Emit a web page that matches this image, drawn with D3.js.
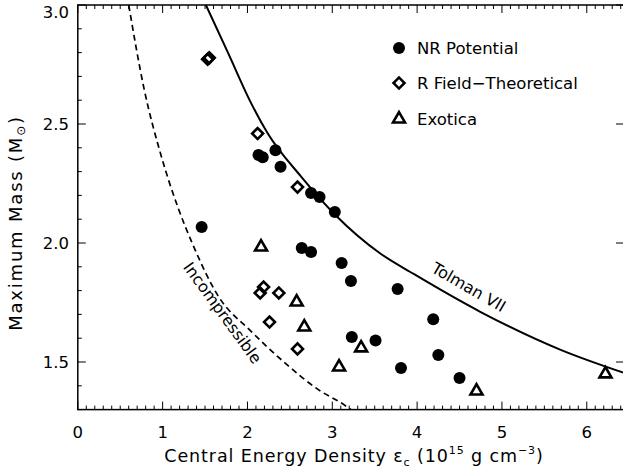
<!DOCTYPE html>
<html>
<head>
<meta charset="utf-8">
<script src="https://cdn.jsdelivr.net/npm/d3@7"></script>
<style>
  body { margin: 0; background: #fff; }
  text { font-family: "DejaVu Sans", sans-serif; fill: #000; }
</style>
</head>
<body>
<svg width="623" height="471"></svg>
<script>
// values: [central energy density, max mass]
const nrPotential = [
  [1.46, 2.067], [2.13, 2.37], [2.18, 2.36], [2.33, 2.39], [2.39, 2.32],
  [2.75, 2.21], [2.85, 2.193], [3.03, 2.13], [2.64, 1.979], [2.75, 1.962],
  [3.11, 1.916], [3.22, 1.84], [3.77, 1.807], [4.19, 1.68], [3.23, 1.605],
  [3.51, 1.59], [4.25, 1.529], [3.81, 1.475], [4.50, 1.433]
];
const rField = [
  [1.53, 2.772], [1.55, 2.778], [2.12, 2.46], [2.59, 2.235], [2.19, 1.815],
  [2.15, 1.79], [2.37, 1.79], [2.26, 1.668], [2.59, 1.555]
];
const exotica = [
  [2.16, 1.983], [2.58, 1.752], [2.67, 1.647], [3.34, 1.559], [3.08, 1.479],
  [4.70, 1.378], [6.22, 1.45]
];
const tolmanVII = [
  [1.51, 3.0], [1.77, 2.80], [2.04, 2.59], [2.24, 2.46], [2.63, 2.28],
  [3.03, 2.12], [3.57, 1.955], [3.96, 1.87], [4.75, 1.71], [5.70, 1.55], [6.45, 1.453]
];
const incompressible = [
  [0.60, 3.0], [0.78, 2.65], [0.98, 2.37], [1.18, 2.15], [1.36, 1.99],
  [1.65, 1.78], [2.04, 1.63], [2.43, 1.50], [2.83, 1.385], [3.14, 1.32], [3.22, 1.30]
];
const xTicks = [0, 1, 2, 3, 4, 5, 6];
const yTicks = [1.5, 2.0, 2.5, 3.0];
const legendNames = ["NR Potential", "R Field\u2212Theoretical", "Exotica"];

// right edge of the frame sits just past the picture
const pLeft = 77.8, pRight = 624, pTop = 5, pBottom = 409.6;

const svg = d3.select("svg");

const x = d3.scaleLinear().domain([0, (pRight - pLeft) / 84.83]).range([pLeft, pRight]);
const y = d3.scaleLinear().domain([1.3, 3.0]).range([pBottom, pTop]);

const xMinor = d3.range(0, 65).map(i => i / 10).filter(v => x(v) <= pRight);
const yMinor = d3.range(13, 31).map(i => i / 10);

// frame
svg.append("rect")
  .attr("x", pLeft).attr("y", pTop)
  .attr("width", pRight - pLeft).attr("height", pBottom - pTop)
  .attr("fill", "none").attr("stroke", "#000").attr("stroke-width", 1.5);

// ticks (all pointing inward)
const tickLayer = svg.append("g").attr("stroke", "#000").attr("stroke-width", 1);
xMinor.forEach(v => {
  const major = Math.abs(v - Math.round(v)) < 1e-6;
  const len = major ? 8 : 4;
  tickLayer.append("line").attr("x1", x(v)).attr("x2", x(v))
    .attr("y1", pBottom).attr("y2", pBottom - len);
  tickLayer.append("line").attr("x1", x(v)).attr("x2", x(v))
    .attr("y1", pTop).attr("y2", pTop + len);
});
yMinor.forEach(v => {
  const major = Math.abs(v * 2 - Math.round(v * 2)) < 1e-6;
  const len = major ? 8 : 4;
  tickLayer.append("line").attr("y1", y(v)).attr("y2", y(v))
    .attr("x1", pLeft).attr("x2", pLeft + len);
  if (major) tickLayer.append("line").attr("y1", y(v)).attr("y2", y(v))
    .attr("x1", pRight).attr("x2", pRight - len);
});

// tick labels
svg.selectAll(".xlab").data(xTicks).enter().append("text")
  .attr("x", d => x(d)).attr("y", 438)
  .attr("text-anchor", "middle").attr("font-size", 16.5)
  .text(d => d);
svg.selectAll(".ylab").data(yTicks).enter().append("text")
  .attr("x", 69).attr("y", d => Math.max(y(d) + 6, 18))
  .attr("text-anchor", "end").attr("font-size", 16.5)
  .text(d => d.toFixed(1));

// axis titles
const xt = svg.append("text")
  .attr("x", 354).attr("y", 462)
  .attr("text-anchor", "middle").attr("font-size", 17.5)
  .attr("letter-spacing", 0.9);
xt.append("tspan").text("Central Energy Density \u03b5");
xt.append("tspan").attr("font-size", 11).attr("dy", 4).text("c");
xt.append("tspan").attr("dy", -4).text(" (10");
xt.append("tspan").attr("font-size", 11).attr("dy", -8).text("15");
xt.append("tspan").attr("dy", 8).text(" g cm");
xt.append("tspan").attr("font-size", 11).attr("dy", -8).text("\u22123");
xt.append("tspan").attr("dy", 8).text(")");

const yt = svg.append("text")
  .attr("transform", "translate(22,223) rotate(-90)")
  .attr("text-anchor", "middle").attr("font-size", 18)
  .attr("letter-spacing", 1.8);
yt.append("tspan").text("Maximum Mass (M");
yt.append("tspan").attr("font-size", 12).attr("dy", 3).text("\u2299");
yt.append("tspan").attr("dy", -3).text(")");

// curves
const line = d3.line().x(d => x(d[0])).y(d => y(d[1])).curve(d3.curveMonotoneX);
const plot = svg.append("g");
plot.append("path").datum(tolmanVII).attr("d", line)
  .attr("fill", "none").attr("stroke", "#000").attr("stroke-width", 2);
plot.append("path").datum(incompressible).attr("d", line)
  .attr("fill", "none").attr("stroke", "#000").attr("stroke-width", 1.7)
  .attr("stroke-dasharray", "6,4");

svg.append("text")
  .attr("transform", "translate(466,292) rotate(30)")
  .attr("text-anchor", "middle").attr("font-size", 16)
  .text("Tolman VII");
svg.append("text")
  .attr("transform", "translate(218,316) rotate(54)")
  .attr("text-anchor", "middle").attr("font-size", 16)
  .text("Incompressible");

// markers
plot.selectAll(".nr").data(nrPotential).enter().append("circle")
  .attr("cx", d => x(d[0])).attr("cy", d => y(d[1])).attr("r", 6)
  .attr("fill", "#000");
const diamond = d3.symbol().type(d3.symbolSquare).size(60);
plot.selectAll(".rf").data(rField).enter().append("path")
  .attr("d", diamond)
  .attr("transform", d => `translate(${x(d[0])},${y(d[1])}) rotate(45)`)
  .attr("fill", "none").attr("stroke", "#000").attr("stroke-width", 2.6);
const tri = d3.symbol().type(d3.symbolTriangle).size(62);
plot.selectAll(".ex").data(exotica).enter().append("path")
  .attr("d", tri)
  .attr("transform", d => `translate(${x(d[0])},${y(d[1])})`)
  .attr("fill", "none").attr("stroke", "#000").attr("stroke-width", 2.6)
  .attr("stroke-linejoin", "miter");

// legend
const legend = svg.append("g");
const ly = [48, 83, 119];
legend.append("circle").attr("cx", 399).attr("cy", ly[0]).attr("r", 6).attr("fill", "#000");
legend.append("path").attr("d", diamond)
  .attr("transform", `translate(399,${ly[1]}) rotate(45)`)
  .attr("fill", "none").attr("stroke", "#000").attr("stroke-width", 2.6);
legend.append("path").attr("d", tri)
  .attr("transform", `translate(399,${ly[2]})`)
  .attr("fill", "none").attr("stroke", "#000").attr("stroke-width", 2.6);
legend.selectAll(".lt").data(legendNames).enter().append("text")
  .attr("x", 417).attr("y", (d, i) => ly[i] + 6)
  .attr("font-size", 16.5)
  .text(d => d);
</script>
</body>
</html>
